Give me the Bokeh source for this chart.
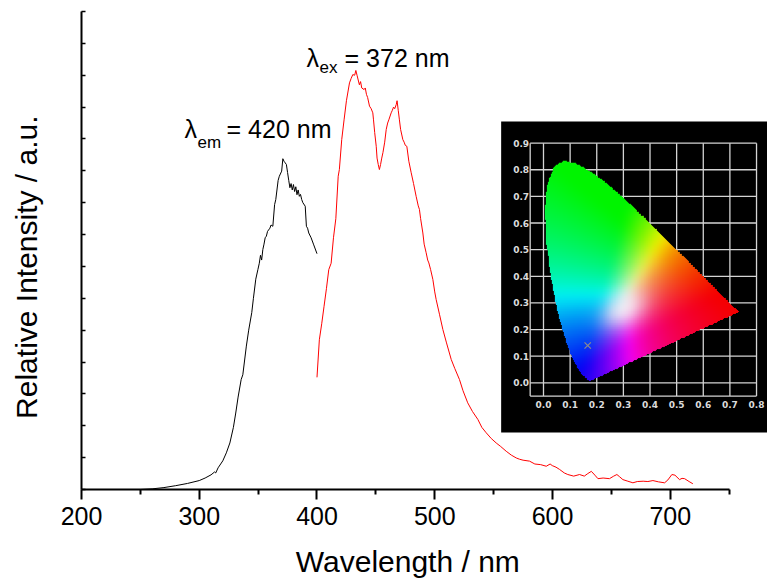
import numpy as np
from bokeh.plotting import figure
from bokeh.models import Range1d, FixedTicker, Label, CustomJSTickFormatter
from bokeh.core.properties import value
from bokeh.embed import file_html
from bokeh.resources import INLINE

# ---------------- data ----------------
ex_wl = [250, 260, 270, 280, 290, 300, 305, 310, 313, 314, 316, 320, 323, 326, 329, 331, 333,
         335.6, 337, 340, 342, 344.6, 346, 348, 349.8, 351, 352, 353, 354, 355, 356, 357, 358,
         360, 361, 362.5, 364, 365, 367, 368, 370, 371, 372, 373, 374, 375, 376, 377, 378, 379,
         380, 381, 382, 383, 384, 385, 386, 387, 388, 390, 391, 392, 393, 395, 397, 400]
ex_int = [0.0, 0.02, 0.06, 0.12, 0.19, 0.28, 0.36, 0.46, 0.55, 0.52, 0.68, 0.9, 1.15, 1.46, 1.95,
          2.4, 2.9, 3.45, 3.6, 4.5, 5.0, 5.55, 6.0, 6.6, 6.9, 7.1, 7.35, 7.2, 7.53, 7.7, 7.9, 7.95,
          8.1, 8.2, 8.3, 8.26, 8.94, 9.1, 9.7, 9.83, 9.99, 10.38, 10.3, 10.25, 10.2, 9.95, 9.7,
          9.47, 9.6, 9.4, 9.57, 9.35, 9.5, 9.25, 9.4, 9.2, 9.26, 9.1, 9.0, 8.89, 8.26, 8.2, 8.05,
          7.9, 7.7, 7.4]

em_wl = [400, 402, 404, 406, 408, 410, 412, 414, 416, 418, 419, 421, 423, 425, 427.6, 429, 430.4,
         432, 433, 434, 435, 436, 437, 438, 440, 441, 442, 443, 444.6, 446, 447.4, 448, 449,
         450.3, 451, 452, 453, 454, 455, 456, 457.5, 458.8, 460, 461, 463, 464, 465, 466, 467.3,
         468, 469, 470, 471, 472.9, 474, 475, 476.3, 478, 480, 482, 484.2, 486, 487, 488, 489.9,
         491, 492.7, 494, 495, 496.5, 498.4, 500, 501.2, 504, 506.9, 510, 514, 517, 521, 524, 528,
         532, 536.6, 540, 543.7, 548, 552.2, 556, 560.7, 565, 569.2, 572, 575, 580.5, 585, 590,
         594.7, 598, 599.8, 603, 606, 610, 613, 618, 623, 627, 630, 633, 636, 638.6, 643, 648.4,
         652, 654.7, 657, 659.8, 664, 668.3, 672, 677, 681, 685.3, 690, 695.2, 698, 701.4, 704,
         707.9, 710, 712.2, 716, 719.2]
em_int = [3.52, 4.7, 5.2, 5.75, 6.3, 6.9, 7.1, 7.9, 8.5, 9.83, 10.04, 10.98, 11.6, 12.2, 12.76,
          12.9, 13.02, 13.0, 13.15, 13.0, 12.85, 12.7, 12.8, 12.6, 12.55, 12.6, 12.4, 12.3, 12.03,
          11.95, 11.82, 11.6, 11.2, 10.77, 10.4, 10.2, 10.04, 10.2, 10.4, 10.57, 10.9, 11.3, 11.5,
          11.6, 11.82, 11.9, 12.0, 11.95, 12.08, 12.2, 11.9, 11.6, 11.3, 10.98, 10.9, 10.8, 10.77,
          10.3, 9.94, 9.6, 9.2, 8.9, 8.79, 8.5, 8.05, 7.7, 7.43, 7.2, 7.11, 6.9, 6.59, 6.2, 5.96,
          5.5, 5.02, 4.6, 4.08, 3.8, 3.45, 3.1, 2.72, 2.45, 2.2, 1.95, 1.78, 1.6, 1.46, 1.35, 1.2,
          1.08, 0.99, 0.95, 0.92, 0.89, 0.8, 0.78, 0.73, 0.8, 0.75, 0.7, 0.63, 0.52, 0.47, 0.42,
          0.47, 0.42, 0.5, 0.57, 0.45, 0.34, 0.36, 0.34, 0.42, 0.47, 0.4, 0.31, 0.26, 0.21, 0.25,
          0.26, 0.25, 0.28, 0.24, 0.21, 0.3, 0.47, 0.45, 0.31, 0.35, 0.34, 0.25, 0.18]

x_major_ticks = [200, 300, 400, 500, 600, 700]
x_minor_ticks = [250, 350, 450, 550, 650, 750]
y_ticks = list(range(16))

# CIE 1931 spectral locus (380-700 nm) for the inset chromaticity diagram
locus_x = [0.1741, 0.1740, 0.1738, 0.1736, 0.1733, 0.1730, 0.1726, 0.1721, 0.1714, 0.1703,
           0.1689, 0.1669, 0.1644, 0.1611, 0.1566, 0.1510, 0.1440, 0.1355, 0.1241, 0.1096,
           0.0913, 0.0687, 0.0454, 0.0235, 0.0082, 0.0039, 0.0139, 0.0389, 0.0743, 0.1142,
           0.1547, 0.1929, 0.2296, 0.2658, 0.3016, 0.3373, 0.3731, 0.4087, 0.4441, 0.4788,
           0.5125, 0.5448, 0.5752, 0.6029, 0.6270, 0.6482, 0.6658, 0.6801, 0.6915, 0.7006,
           0.7079, 0.7140, 0.7190, 0.7230, 0.7260, 0.7283, 0.7300, 0.7311, 0.7320, 0.7334, 0.7347]
locus_y = [0.0050, 0.0050, 0.0049, 0.0049, 0.0048, 0.0048, 0.0048, 0.0048, 0.0051, 0.0058,
           0.0069, 0.0086, 0.0109, 0.0138, 0.0177, 0.0227, 0.0297, 0.0399, 0.0578, 0.0868,
           0.1327, 0.2007, 0.2950, 0.4127, 0.5384, 0.6548, 0.7502, 0.8120, 0.8338, 0.8262,
           0.8059, 0.7816, 0.7543, 0.7243, 0.6923, 0.6589, 0.6245, 0.5896, 0.5547, 0.5202,
           0.4866, 0.4544, 0.4242, 0.3965, 0.3725, 0.3514, 0.3340, 0.3197, 0.3083, 0.2993,
           0.2920, 0.2859, 0.2809, 0.2770, 0.2740, 0.2717, 0.2700, 0.2689, 0.2680, 0.2666, 0.2653]
cie_x_ticks = [0.0, 0.1, 0.2, 0.3, 0.4, 0.5, 0.6, 0.7, 0.8]
cie_y_ticks = [0.0, 0.1, 0.2, 0.3, 0.4, 0.5, 0.6, 0.7, 0.8, 0.9]
cie_point_x = [0.166]
cie_point_y = [0.14]

FONT = "Liberation Sans"
PAD = "\u00a0" * 4  # shifts the centred axis titles toward the start of the axes

# ---------------- figure ----------------
p = figure(width=767, height=582, x_range=Range1d(200, 782.6), y_range=Range1d(0, 15),
           output_backend="svg", toolbar_location=None,
           min_border_left=81, min_border_right=0, min_border_top=11, min_border_bottom=93)
p.outline_line_color = None
p.xgrid.visible = False
p.ygrid.visible = False
p.background_fill_color = "white"

xa = p.xaxis[0]
xa.ticker = FixedTicker(ticks=x_major_ticks, minor_ticks=x_minor_ticks)
xa.bounds = (200, 750)
xa.axis_line_width = 2
xa.major_tick_line_width = 2
xa.minor_tick_line_width = 2
xa.major_tick_in = 0
xa.major_tick_out = 10
xa.minor_tick_in = 0
xa.minor_tick_out = 5
xa.major_label_text_font = FONT
xa.major_label_text_font_size = "25px"
xa.major_label_text_color = "black"
xa.major_label_standoff = 7
xa.axis_label = "Wavelength / nm" + PAD
xa.axis_label_text_font = FONT
xa.axis_label_text_font_size = "30px"
xa.axis_label_text_font_style = "normal"
xa.axis_label_text_color = "black"
xa.axis_label_standoff = 17

ya = p.yaxis[0]
ya.ticker = FixedTicker(ticks=y_ticks, minor_ticks=[])
ya.bounds = (0, 15)
ya.axis_line_width = 2
ya.major_tick_line_width = 1.5
ya.major_tick_in = 4
ya.major_tick_out = 0
ya.minor_tick_in = 0
ya.minor_tick_out = 0
ya.formatter = CustomJSTickFormatter(code="return ''")
ya.axis_label = "Relative Intensity / a.u." + PAD
ya.axis_label_text_font = FONT
ya.axis_label_text_font_size = "30px"
ya.axis_label_text_font_style = "normal"
ya.axis_label_text_color = "black"
ya.axis_label_standoff = 39

# spectra
p.line(ex_wl, ex_int, line_color="black", line_width=1)
p.line(em_wl, em_int, line_color="red", line_width=1)

# lambda annotations
def lam_label(x_l, x_sub, x_rest, y_base, y_sub, sub, rest):
    p.add_layout(Label(x=x_l, y=y_base, text="\u03bb", text_font=FONT, text_font_size="25px",
                       text_baseline="alphabetic", text_color="black"))
    p.add_layout(Label(x=x_sub, y=y_sub, text=sub, text_font=FONT, text_font_size="17px",
                       text_baseline="alphabetic", text_color="black"))
    p.add_layout(Label(x=x_rest, y=y_base, text=rest, text_font=FONT, text_font_size="25px",
                       text_baseline="alphabetic", text_color="black"))

lam_label(287.5, 298.5, 323.2, 11.30, 10.89, "em", "= 420 nm")
lam_label(391.1, 402.1, 423.4, 13.555, 13.24, "ex", "= 372 nm")

# ---------------- inset (CIE diagram) ----------------
p.extra_x_ranges = {"cie": Range1d(-1.7349, 0.8412)}
p.extra_y_ranges = {"cie": Range1d(-0.4007, 1.3943)}
R = dict(x_range_name="cie", y_range_name="cie")

p.quad(left=-0.159, right=0.9, bottom=-0.1866, top=0.981, fill_color="black",
       line_color=None, **R)

vx = [-0.05] + cie_x_ticks
hy = [-0.05] + cie_y_ticks
p.segment(x0=vx, x1=vx, y0=[-0.05] * len(vx), y1=[0.9] * len(vx),
          line_color="#d4d4d4", line_width=1.3, **R)
p.segment(x0=[-0.05] * len(hy), x1=[0.8] * len(hy), y0=hy, y1=hy,
          line_color="#d4d4d4", line_width=1.3, **R)

# chromaticity colour fill
nx, ny = 300, 340
gx0, gx1, gy0, gy1 = -0.01, 0.76, -0.02, 0.86
gx = np.linspace(gx0, gx1, nx)
gy = np.linspace(gy0, gy1, ny)
GX, GY = np.meshgrid(gx, gy)

inside = np.zeros(GX.shape, dtype=bool)
n = len(locus_x)
j = n - 1
for i in range(n):
    xi, yi, xj, yj = locus_x[i], locus_y[i], locus_x[j], locus_y[j]
    if yi != yj:
        cond = ((yi > GY) != (yj > GY)) & (GX < (xj - xi) * (GY - yi) / (yj - yi) + xi)
        inside ^= cond
    j = i

Ys = np.where(GY > 1e-3, GY, 1e-3)
Xc = GX / Ys
Zc = (1 - GX - GY) / Ys
r = 3.2406 * Xc - 1.5372 - 0.4986 * Zc
g = -0.9689 * Xc + 1.8758 + 0.0415 * Zc
b = 0.0557 * Xc - 0.2040 + 1.0570 * Zc
rgb = np.clip(np.stack([r, g, b], axis=-1), 0, None)
rgb = rgb / (rgb.max(axis=-1, keepdims=True) + 1e-9)
rgb = np.power(rgb, 1 / 1.15)

# bright white core around the achromatic point
du, dv = GX - 0.30, GY - 0.275
ca, sa = np.cos(np.radians(30)), np.sin(np.radians(30))
u = (du * ca + dv * sa) / 0.08
v = (-du * sa + dv * ca) / 0.05
w = np.exp(-(u ** 2 + v ** 2))[:, :, None]
rgb = rgb * (1 - w) + w

# soften colour transitions (normalised gaussian blur restricted to the gamut)
sigma = 8.0
rad = int(3 * sigma)
kern = np.exp(-0.5 * (np.arange(-rad, rad + 1) / sigma) ** 2)
kern /= kern.sum()


def blur2d(a):
    a = np.pad(a, rad, mode="constant")
    a = np.apply_along_axis(lambda m: np.convolve(m, kern, mode="valid"), 0, a)
    a = np.apply_along_axis(lambda m: np.convolve(m, kern, mode="valid"), 1, a)
    return a


m = inside.astype(float)
mb = blur2d(m) + 1e-9
chans = [blur2d(rgb[:, :, k] * m) / mb for k in range(3)]
rgb8 = (np.clip(np.stack(chans, axis=-1), 0, 1) * 245).astype(np.uint8)

img = np.zeros((ny, nx), dtype=np.uint32)
view = img.view(dtype=np.uint8).reshape((ny, nx, 4))
view[:, :, 0] = rgb8[:, :, 0]
view[:, :, 1] = rgb8[:, :, 1]
view[:, :, 2] = rgb8[:, :, 2]
view[:, :, 3] = np.where(inside, 255, 0).astype(np.uint8)

p.image_rgba(image=[img], x=gx0, y=gy0, dw=gx1 - gx0, dh=gy1 - gy0, **R)

p.scatter(x=cie_point_x, y=cie_point_y, marker="x", size=9, line_color="#8c8c8c",
          line_width=1.2, **R)

p.text(x=cie_x_ticks, y=[-0.081] * len(cie_x_ticks), text=[f"{v:.1f}" for v in cie_x_ticks],
       text_font=value("DejaVu Sans"), text_font_style="bold", text_font_size="9px",
       text_color="#dcdcdc", text_align="center", text_baseline="middle", **R)
p.text(x=[-0.084] * len(cie_y_ticks), y=cie_y_ticks, text=[f"{v:.1f}" for v in cie_y_ticks],
       text_font=value("DejaVu Sans"), text_font_style="bold", text_font_size="9px",
       text_color="#dcdcdc", text_align="center", text_baseline="middle", **R)

open("out.html", "w").write(file_html(p, INLINE))
